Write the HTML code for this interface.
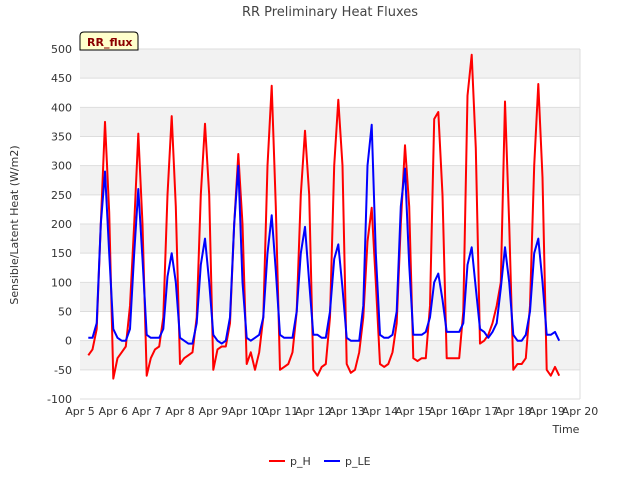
<!DOCTYPE html>
<html><head><meta charset="utf-8"><style>
body{margin:0;background:#fff;font-family:"Liberation Sans",sans-serif}
svg text{font-family:"DejaVu Sans","Liberation Sans",sans-serif}
</style></head><body>
<svg id="chart" width="640" height="480" xmlns="http://www.w3.org/2000/svg">
<text x="330" y="16" text-anchor="middle" font-size="13" fill="#444">RR Preliminary Heat Fluxes</text>
<g id="grid"></g>
<g id="axes"></g>
<g id="series"></g>
<text transform="translate(18,225) rotate(-90)" text-anchor="middle" font-size="11" fill="#333">Sensible/Latent Heat (W/m2)</text>
<text x="566" y="433" text-anchor="middle" font-size="11" fill="#333">Time</text>
<g>
<path d="M80,50 L80,36 Q80,32 84,32 L134,32 Q138,32 138,36 L138,50 Z" fill="#ffffcc" stroke="#000" stroke-width="1"/>
<text x="87" y="46" font-size="11" font-weight="bold" fill="#8b0000">RR_flux</text>
</g>
<g>
<line x1="269" y1="461" x2="285" y2="461" stroke="#f00" stroke-width="2"/>
<text x="290" y="465" font-size="11" fill="#333">p_H</text>
<line x1="324" y1="461" x2="340" y2="461" stroke="#00f" stroke-width="2"/>
<text x="345" y="465" font-size="11" fill="#333">p_LE</text>
</g>
</svg>
<script>
const startDay = 5.25;
const stepDay = 0.125;
const pH = [
-25,-15,20,200,375,220,-65,-30,
-20,-10,60,200,355,200,-60,-30,
-15,-10,40,250,385,230,-40,-30,
-25,-20,40,250,372,250,-50,-15,
-10,-10,30,200,320,200,-40,-20,
-50,-20,40,300,437,230,-50,-45,
-40,-20,50,250,360,250,-50,-60,
-45,-40,40,300,413,300,-40,-55,
-50,-20,40,170,228,100,-40,-45,
-40,-20,30,200,335,230,-30,-35,
-30,-30,60,380,392,250,-30,-30,
-30,-30,50,420,490,330,-5,0,
10,30,60,100,410,200,-50,-40,
-40,-30,60,300,440,280,-50,-60,
-45,-60];
const pLE = [
5,5,30,200,290,150,20,5,
0,0,20,150,260,140,10,5,
5,5,20,110,150,100,5,0,
-5,-5,30,130,175,100,10,0,
-5,0,40,200,300,100,5,0,
5,10,40,150,215,120,10,5,
5,5,50,150,195,100,10,10,
5,5,50,140,165,90,5,0,
0,0,60,300,370,150,10,5,
5,10,50,230,295,130,10,10,
10,15,40,100,115,70,15,15,
15,15,30,130,160,90,20,15,
5,15,30,90,160,100,10,0,
0,10,50,150,175,100,10,10,
15,0];
const yTicks = [-100,-50,0,50,100,150,200,250,300,350,400,450,500];
const xTickDays = [5,6,7,8,9,10,11,12,13,14,15,16,17,18,19,20];
const xTickLabels = ["Apr 5","Apr 6","Apr 7","Apr 8","Apr 9","Apr 10","Apr 11","Apr 12","Apr 13","Apr 14","Apr 15","Apr 16","Apr 17","Apr 18","Apr 19","Apr 20"];

const L=80,R=580,T=49,B=399, yMin=-100,yMax=500,xMin=5,xMax=20;
const xs=d=>L+(d-xMin)/(xMax-xMin)*(R-L);
const ys=v=>B-(v-yMin)/(yMax-yMin)*(B-T);
const NS="http://www.w3.org/2000/svg";
function mk(tag,attrs,parent){const e=document.createElementNS(NS,tag);for(const k in attrs)e.setAttribute(k,attrs[k]);parent.appendChild(e);return e;}
const grid=document.getElementById('grid'),axes=document.getElementById('axes'),series=document.getElementById('series');
for(let i=0;i<yTicks.length-1;i++){
  if(i%2===1){const r=mk('rect',{x:L,y:ys(yTicks[i+1]),width:R-L,height:ys(yTicks[i])-ys(yTicks[i+1]),fill:'#f2f2f2'},grid);
  
  }
}
yTicks.forEach(v=>{
  const l=mk('line',{x1:L,x2:R,y1:ys(v),y2:ys(v),stroke:'#ddd','stroke-width':1},grid);
  
  
  const t=mk('text',{x:L-8,y:ys(v)+4,'text-anchor':'end','font-size':11,fill:'#333'},axes);
  t.textContent=v;
  
  
});
const fr=mk('line',{x1:R,x2:R,y1:T,y2:B,stroke:'#ddd'},grid);


xTickDays.forEach((d,i)=>{
  const t=mk('text',{x:xs(d),y:B+16,'text-anchor':'middle','font-size':11,fill:'#333'},axes);
  t.textContent=xTickLabels[i];
  
  
});
function draw(vals,color,name){
  const pts=vals.map((v,i)=>xs(startDay+i*stepDay).toFixed(1)+','+ys(v).toFixed(1)).join(' ');
  const p=mk('polyline',{points:pts,fill:'none',stroke:color,'stroke-width':2,'stroke-linejoin':'round'},series);
  
  
}
draw(pH,'#ff0000','series-p-h');
draw(pLE,'#0000ff','series-p-le');
</script>
</body></html>
